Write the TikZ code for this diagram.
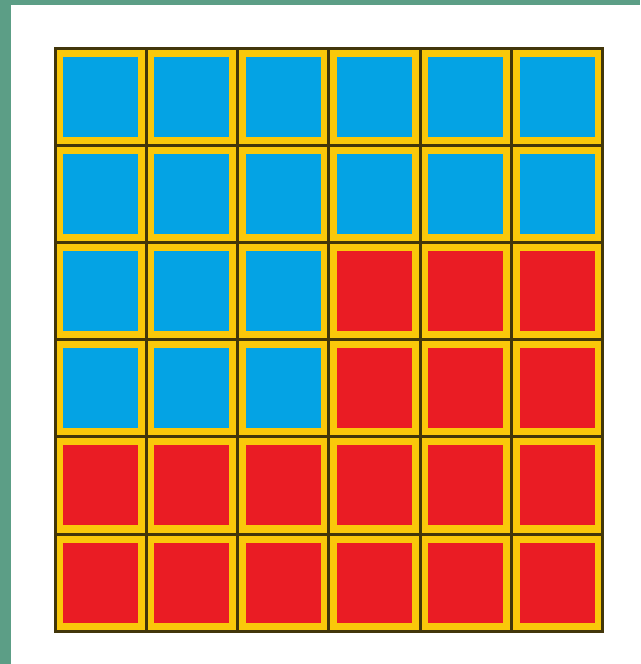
\documentclass[tikz,border=0pt]{standalone}
\usetikzlibrary{positioning}

\definecolor{tilegreen}{RGB}{92,158,134}
\definecolor{tileblue}{RGB}{4,163,228}
\definecolor{tilered}{RGB}{234,28,36}
\definecolor{tileyellow}{RGB}{250,200,10}
\definecolor{tileedge}{RGB}{66,54,10}

\tikzstyle{every node}=[inner sep=0pt, outer sep=0pt]
\tikzstyle{frame}=[draw=tileedge, line width=3pt, fill=tileyellow, minimum width=91.3pt, minimum height=97.2pt]
\tikzstyle{face}=[minimum width=75pt, minimum height=80pt]

\begin{document}
\begin{tikzpicture}[x=1pt, y=-1pt]
    % page and green edge
    \fill [tilegreen] (0,0) rectangle (640,664);
    \fill [white] (11,5) rectangle (640,664);
    \useasboundingbox (0,0) rectangle (640,664);

    % six by six tiles
    \foreach \r in {1,...,6} {
        \foreach \c in {1,...,6} {
            \pgfmathtruncatemacro{\isblue}{(\r<3) || ((\r<5) && (\c<4))}
            \ifnum\isblue=1 \def\tilecol{tileblue}\else \def\tilecol{tilered}\fi
            \node [frame] (tile-\r-\c) at ({55+91.3*(\c-0.5)}, {48+97.2*(\r-0.5)}) {};
            \node [face, fill=\tilecol] (face-\r-\c) at (tile-\r-\c.center) {};
        }
    }
\end{tikzpicture}
\end{document}
